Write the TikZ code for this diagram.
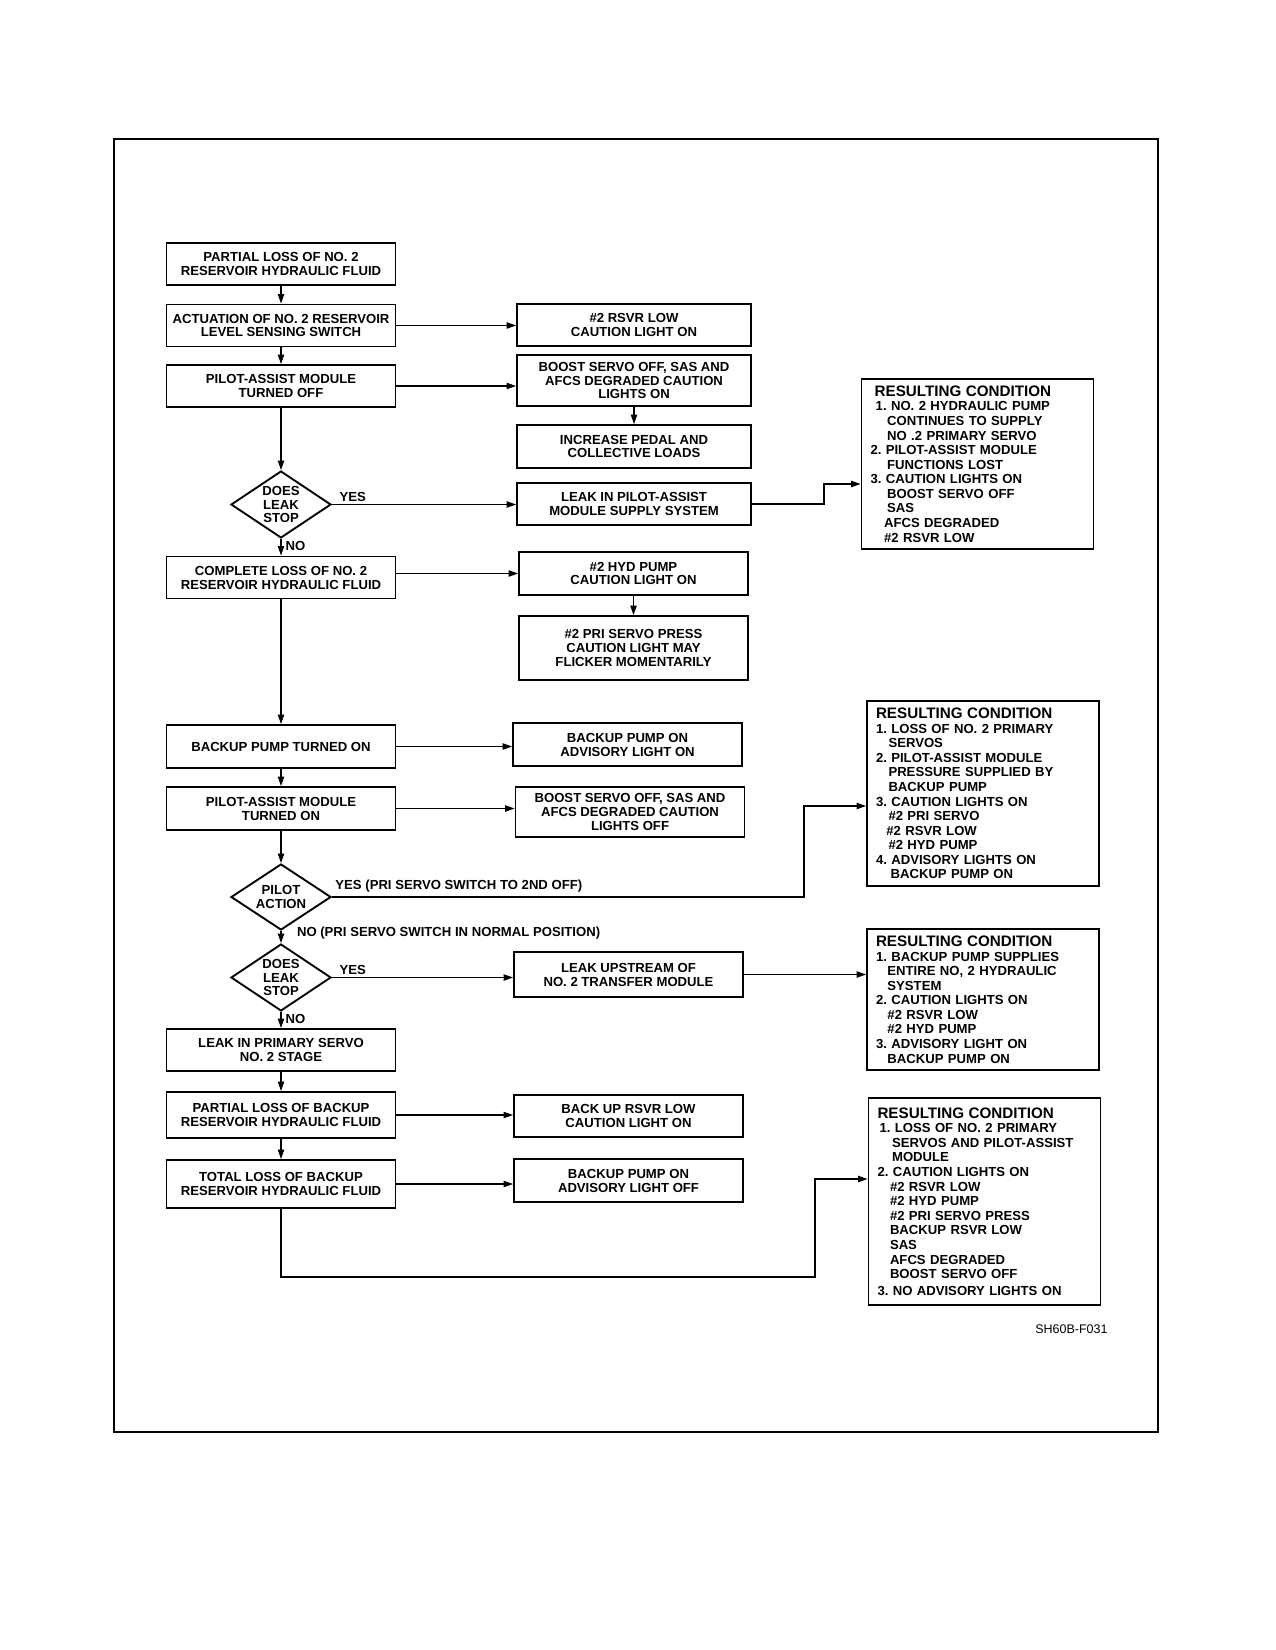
\documentclass[tikz,border=0pt]{standalone}
\usepackage{fontspec}
\setmainfont{Liberation Sans}
\usetikzlibrary{arrows.meta, shapes.geometric, positioning}
\newlength{\pxu}
\setlength{\pxu}{0.48pt}
\newcommand{\bfont}{\fontsize{6.3}{6.7}\selectfont\bfseries}
\newcommand{\rcfont}{\fontsize{6.3}{7}\selectfont\bfseries}
\newcommand{\rctitle}{\fontsize{7.3}{8}\selectfont}
\frenchspacing

\begin{document}
\begin{tikzpicture}[x=0.48pt, y=-0.48pt,
    box/.style={draw, line width=0.9pt, minimum width=229\pxu, minimum height=42\pxu, inner sep=1pt, align=center, font=\bfont},
    rc/.style={draw, line width=0.9pt, text width=214\pxu, inner xsep=9\pxu, align=left, font=\rcfont},
    dia/.style={draw, line width=0.9pt, diamond, minimum width=100\pxu, minimum height=67\pxu, inner sep=0pt},
    lbl/.style={font=\bfont, inner sep=1pt},
    arr/.style={-{Triangle[length=4.5pt, width=3pt]}, line width=0.6pt}]
    \useasboundingbox (0,0) rectangle (1275,1650);
    \draw[line width=1.2pt] (114,139) rectangle (1158,1432);

    % main column
    \node[box] (a1) at (281,264) {PARTIAL LOSS OF NO. 2\\RESERVOIR HYDRAULIC FLUID};
    \node[box] (a2) at (281,325.5) {ACTUATION OF NO. 2 RESERVOIR\\LEVEL SENSING SWITCH};
    \node[box] (a3) at (281,386) {PILOT-ASSIST MODULE\\TURNED OFF};
    \node[dia] (d1) at (281,504.5) {};
    \node[font=\bfont, align=center] (d1t) at (d1) {DOES\\LEAK\\STOP};
    \node[box] (a4) at (281,577.5) {COMPLETE LOSS OF NO. 2\\RESERVOIR HYDRAULIC FLUID};
    \node[box, minimum height=43\pxu] (a5) at (281,746.5) {BACKUP PUMP TURNED ON};
    \node[box, minimum height=43\pxu] (a6) at (281,808.5) {PILOT-ASSIST MODULE\\TURNED ON};
    \node[dia, minimum height=66\pxu] (d2) at (281,897) {};
    \node[font=\bfont, align=center] (d2t) at (d2) {PILOT\\ACTION};
    \node[dia] (d3) at (281,977.5) {};
    \node[font=\bfont, align=center] (d3t) at (d3) {DOES\\LEAK\\STOP};
    \node[box] (a7) at (281,1050) {LEAK IN PRIMARY SERVO\\NO. 2 STAGE};
    \node[box, minimum height=46\pxu] (a8) at (281,1115) {PARTIAL LOSS OF BACKUP\\RESERVOIR HYDRAULIC FLUID};
    \node[box, minimum height=48\pxu] (a9) at (281,1184) {TOTAL LOSS OF BACKUP\\RESERVOIR HYDRAULIC FLUID};

    % lights column
    \node[box, minimum width=234\pxu] (b1) at (634,325) {\#2 RSVR LOW\\CAUTION LIGHT ON};
    \node[box, minimum width=234\pxu, minimum height=51\pxu] (b2) at (634,380.5) {BOOST SERVO OFF, SAS AND\\AFCS DEGRADED CAUTION\\LIGHTS ON};
    \node[box, minimum width=234\pxu, minimum height=43\pxu] (b3) at (634,446.5) {INCREASE PEDAL AND\\COLLECTIVE LOADS};
    \node[box, minimum width=234\pxu] (b4) at (634,504) {LEAK IN PILOT-ASSIST\\MODULE SUPPLY SYSTEM};
    \node[box, minimum height=43\pxu] (b5) at (633.5,573.5) {\#2 HYD PUMP\\CAUTION LIGHT ON};
    \node[box, minimum height=64\pxu] (b6) at (633.5,648) {\#2 PRI SERVO PRESS\\CAUTION LIGHT MAY\\FLICKER MOMENTARILY};
    \node[box, minimum height=43\pxu] (b7) at (627.5,744.5) {BACKUP PUMP ON\\ADVISORY LIGHT ON};
    \node[box, minimum height=50\pxu] (b8) at (630,812) {BOOST SERVO OFF, SAS AND\\AFCS DEGRADED CAUTION\\LIGHTS OFF};
    \node[box, minimum height=45\pxu] (b9) at (628.5,974.5) {LEAK UPSTREAM OF\\NO. 2 TRANSFER MODULE};
    \node[box] (b10) at (628.5,1116) {BACK UP RSVR LOW\\CAUTION LIGHT ON};
    \node[box, minimum height=43\pxu] (b11) at (628.5,1180.5) {BACKUP PUMP ON\\ADVISORY LIGHT OFF};

    % resulting conditions
    \node[rc, minimum height=170\pxu] (rc1) at (977.5,464) {%
        \hspace*{2pt}{\rctitle RESULTING CONDITION}\\
        \hspace*{2.5pt}1. NO. 2 HYDRAULIC PUMP\\
        \hspace*{8pt}CONTINUES TO SUPPLY\\
        \hspace*{8pt}NO .2 PRIMARY SERVO\\
        2. PILOT-ASSIST MODULE\\
        \hspace*{8pt}FUNCTIONS LOST\\
        3. CAUTION LIGHTS ON\\
        \hspace*{8pt}BOOST SERVO OFF\\
        \hspace*{8pt}SAS\\
        \hspace*{6.5pt}AFCS DEGRADED\\
        \hspace*{6.5pt}\#2 RSVR LOW};
    \node[rc, minimum height=183\pxu] (rc2) at (983,793.5) {%
        {\rctitle RESULTING CONDITION}\\
        1. LOSS OF NO. 2 PRIMARY\\
        \hspace*{6pt}SERVOS\\
        2. PILOT-ASSIST MODULE\\
        \hspace*{6pt}PRESSURE SUPPLIED BY\\
        \hspace*{6pt}BACKUP PUMP\\
        3. CAUTION LIGHTS ON\\
        \hspace*{6pt}\#2 PRI SERVO\\
        \hspace*{5pt}\#2 RSVR LOW\\
        \hspace*{6pt}\#2 HYD PUMP\\
        4. ADVISORY LIGHTS ON\\
        \hspace*{7pt}BACKUP PUMP ON};
    \node[rc, minimum height=139\pxu] (rc3) at (983,999.5) {%
        {\rctitle RESULTING CONDITION}\\
        1. BACKUP PUMP SUPPLIES\\
        \hspace*{5.5pt}ENTIRE NO, 2 HYDRAULIC\\
        \hspace*{5.5pt}SYSTEM\\
        2. CAUTION LIGHTS ON\\
        \hspace*{5.5pt}\#2 RSVR LOW\\
        \hspace*{5.5pt}\#2 HYD PUMP\\
        3. ADVISORY LIGHT ON\\
        \hspace*{5.5pt}BACKUP PUMP ON};
    \node[rc, minimum height=207\pxu] (rc4) at (984.5,1201.5) {%
        {\rctitle RESULTING CONDITION}\\
        \hspace*{1pt}1. LOSS OF NO. 2 PRIMARY\\
        \hspace*{7pt}SERVOS AND PILOT-ASSIST\\
        \hspace*{7pt}MODULE\\
        2. CAUTION LIGHTS ON\\
        \hspace*{6pt}\#2 RSVR LOW\\
        \hspace*{6pt}\#2 HYD PUMP\\
        \hspace*{6pt}\#2 PRI SERVO PRESS\\
        \hspace*{6pt}BACKUP RSVR LOW\\
        \hspace*{6pt}SAS\\
        \hspace*{6pt}AFCS DEGRADED\\
        \hspace*{6pt}BOOST SERVO OFF\\[1pt]
        3. NO ADVISORY LIGHTS ON};

    % labels
    \node[lbl, anchor=south west] (yes1) at ([xshift=2.5pt]d1.east) {YES};
    \node[lbl, anchor=north west] (no1) at ([xshift=1pt]d1.south) {NO};
    \node[lbl, anchor=south west] (yes2) at ([xshift=0.5pt, yshift=1pt]d2.east) {YES (PRI SERVO SWITCH TO 2ND OFF)};
    \node[lbl, anchor=west] (no2) at ([xshift=6.5pt, yshift=-1pt]d2.south) {NO (PRI SERVO SWITCH IN NORMAL POSITION)};
    \node[lbl, anchor=south west] (yes3) at ([xshift=2.5pt]d3.east) {YES};
    \node[lbl, anchor=north west] (no3) at ([xshift=1pt]d3.south) {NO};
    \node[font=\fontsize{6}{7}\selectfont, anchor=east, inner sep=0pt] (fig) at (1108,1329) {SH60B-F031};

    % main flow
    \draw[arr] (a1) -- (a2);
    \draw[arr] (a2) -- (a3);
    \draw[arr] (a3) -- (d1);
    \draw[arr] (d1) -- (a4);
    \draw[arr] (a4) -- (a5);
    \draw[arr] (a5) -- (a6);
    \draw[arr] (a6) -- (d2);
    \draw[arr] (d2) -- (d3);
    \draw[arr] (d3) -- (a7);
    \draw[arr] (a7) -- (a8);
    \draw[arr] (a8) -- (a9);

    % side branches
    \draw[arr] (a2.east) -- (a2.east -| b1.west);
    \draw[arr] (a3.east) -- (a3.east -| b2.west);
    \draw[arr] (b2) -- (b3);
    \draw[arr] (d1.east) -- (d1.east -| b4.west);
    \draw[arr] (b5.west -| a4.east) -- (b5.west);
    \draw[arr] (b5) -- (b6);
    \draw[arr] (a5.east) -- (a5.east -| b7.west);
    \draw[arr] (a6.east) -- (a6.east -| b8.west);
    \draw[arr] (d3.east) -- (d3.east -| b9.west);
    \draw[arr] (a8.east) -- (a8.east -| b10.west);
    \draw[arr] (a9.east) -- (a9.east -| b11.west);

    % to resulting conditions
    \coordinate (k1) at (824,484);
    \coordinate (k2) at (804,806);
    \coordinate (k3) at (815,1277);
    \coordinate (k4) at (815,1179);
    \draw[arr] (b4.east) -| (k1) -- (k1 -| rc1.west);
    \draw[arr] (d2.east) -| (k2) -- (k2 -| rc2.west);
    \draw[arr] (b9.east) -- (b9.east -| rc3.west);
    \draw[arr] (a9.south) |- (k3) -- (k4) -- (k4 -| rc4.west);
\end{tikzpicture}
\end{document}
